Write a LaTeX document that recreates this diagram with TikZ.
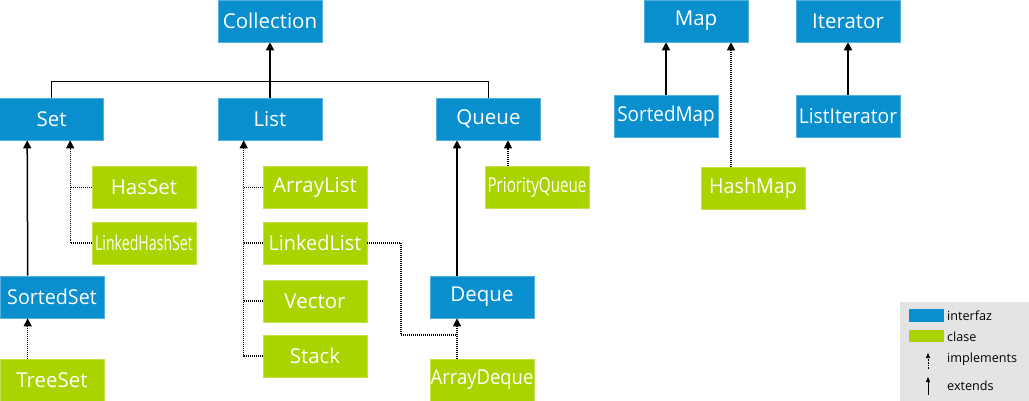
\documentclass[tikz,border=0pt]{standalone}
\usepackage{fontspec}
\setmainfont{Open Sans}
\usetikzlibrary{arrows.meta}
\definecolor{iblue}{RGB}{9,143,205}
\definecolor{cgreen}{RGB}{170,212,0}
\definecolor{leggray}{RGB}{228,228,228}
\newcommand{\narrow}[2]{\scalebox{#1}[1]{#2}}
\tikzset{
  box/.style={minimum width=104pt,minimum height=42pt,inner sep=0pt,text=white,font=\fontsize{20.5}{24}\selectfont},
  iface/.style={box,fill=iblue,draw=iblue!70!white,line width=0.6pt},
  cls/.style={box,fill=cgreen,draw=cgreen!70!white,line width=0.6pt},
  tip/.style={-{Triangle[width=8pt,length=8pt]}},
  ext/.style={tip,line width=1.5pt,black},
  impl/.style={tip,line width=1.2pt,black,dash pattern=on 1pt off 1pt},
  solidl/.style={line width=1.2pt,black},
  dotl/.style={line width=1.2pt,black,dash pattern=on 1pt off 1pt},
  legtext/.style={anchor=west,inner sep=0pt,font=\fontsize{12.6}{15}\selectfont,text=black}
}
\begin{document}
\begin{tikzpicture}[x=1pt,y=-1pt]
\useasboundingbox (0,0) rectangle (1029,401);
% interfaces
\node[iface] (coll) at (270,21) {Collection};
\node[iface] (set) at (51.5,119) {Set};
\node[iface] (list) at (270,119) {List};
\node[iface] (queue) at (488.5,119) {Queue};
\node[iface] (sortedset) at (52,297) {\narrow{0.96}{SortedSet}};
\node[iface] (deque) at (482,297) {Deque};
\node[iface] (map) at (696,21) {Map};
\node[iface] (iterator) at (848,21) {Iterator};
\node[iface] (sortedmap) at (666,116) {\narrow{0.92}{SortedMap}};
\node[iface] (listiterator) at (848,116) {\narrow{0.94}{ListIterator}};
% classes
\node[cls] (hasset) at (144,187.5) {HasSet};
\node[cls] (lhs) at (144,243) {\narrow{0.69}{LinkedHashSet}};
\node[cls] (treeset) at (52,380) {TreeSet};
\node[cls] (arraylist) at (315,187.5) {ArrayList};
\node[cls] (linkedlist) at (315,243) {\narrow{0.97}{LinkedList}};
\node[cls] (vector) at (315,301) {Vector};
\node[cls] (stack) at (315,356) {Stack};
\node[cls] (pq) at (537,187.5) {\narrow{0.74}{PriorityQueue}};
\node[cls] (arraydeque) at (482,380) {\narrow{0.9}{ArrayDeque}};
\node[cls] (hashmap) at (753,188) {\narrow{0.96}{HashMap}};
% Collection hierarchy
\draw[solidl] (set.north) -- ++(0,-16) -| (queue.north);
\draw[ext] (list.north) -- (coll.south);
% Set
\draw[ext] ([xshift=28pt]sortedset.north west) -- ([xshift=28pt]set.south west);
\coordinate (sethook) at ([xshift=71pt]set.south west);
\draw[impl] (lhs.west) -| (sethook);
\draw[dotl] (hasset.west) -- (hasset.west -| sethook);
\draw[impl] ([xshift=28pt]treeset.north west) -- ([xshift=28pt]sortedset.south west);
% List
\coordinate (listhook) at ([xshift=26pt]list.south west);
\draw[impl] (stack.west) -| (listhook);
\draw[dotl] (arraylist.west) -- (arraylist.west -| listhook);
\draw[dotl] (linkedlist.west) -- (linkedlist.west -| listhook);
\draw[dotl] (vector.west) -- (vector.west -| listhook);
% Queue
\coordinate (dqtop) at ([xshift=-25pt]deque.north);
\draw[ext] (dqtop) -- (queue.south -| dqtop);
\coordinate (pqtop) at ([xshift=-29pt]pq.north);
\draw[impl] (pqtop) -- (queue.south -| pqtop);
\coordinate (dqarrow) at ([xshift=-25pt]deque.south);
\coordinate (llturn) at (401,335);
\draw[dotl] (linkedlist.east) -| (llturn) -- (llturn -| dqarrow);
\draw[impl] ([xshift=-25pt]arraydeque.north) -- (dqarrow);
% Map
\coordinate (smtop) at (sortedmap.north);
\draw[ext] (smtop) -- (map.south -| smtop);
\coordinate (hmtop) at ([xshift=-22pt]hashmap.north);
\draw[impl] (hmtop) -- (map.south -| hmtop);
\draw[ext] (listiterator.north) -- (iterator.south);
% Legend
\fill[leggray] (900,302) rectangle (1029,401);
\fill[iblue] (909,309) rectangle (944,322);
\node[legtext] (l1) at (947,315.5) {interfaz};
\fill[cgreen] (909,330) rectangle (944,342);
\node[legtext] (l2) at (947,336.5) {clase};
\coordinate (ia) at (928,369);
\coordinate (ib) at (928,353);
\draw[-{Triangle[width=4pt,length=5pt]},line width=0.7pt,dash pattern=on 0.8pt off 0.8pt] (ia) -- (ib);
\node[legtext] (l3) at (947,359) {implements};
\coordinate (ea) at (928,395);
\coordinate (eb) at (928,377);
\draw[-{Triangle[width=4pt,length=5pt]},line width=0.7pt] (ea) -- (eb);
\node[legtext] (l4) at (947,386) {extends};
\end{tikzpicture}
\end{document}
